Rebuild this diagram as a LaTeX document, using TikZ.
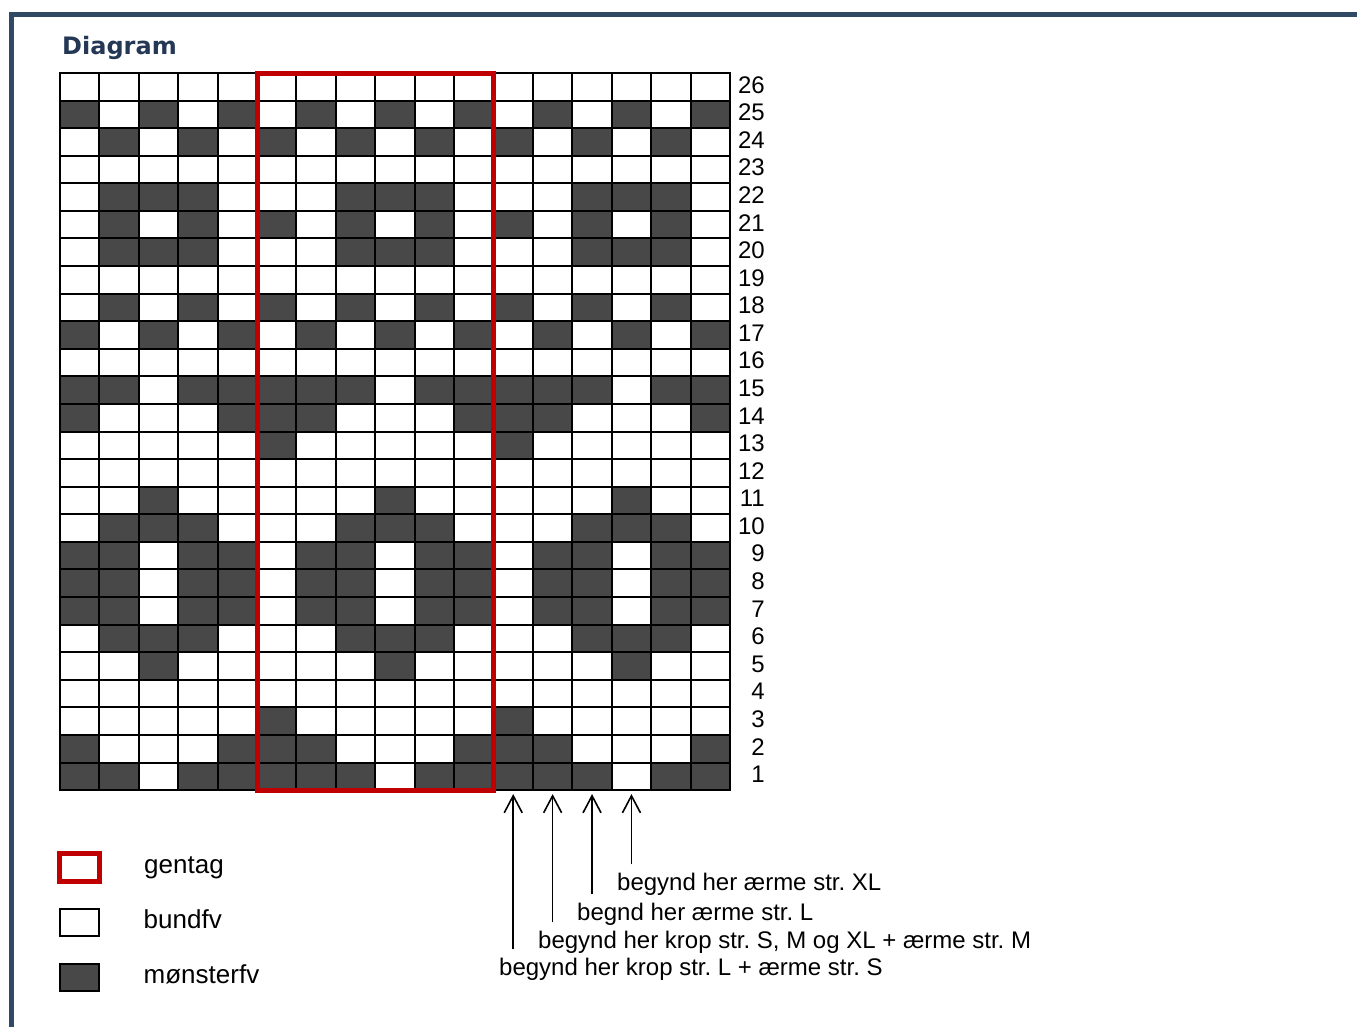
\documentclass[tikz,border=0pt]{standalone}
\usepackage{fontspec}
\setmainfont{Liberation Sans}
\newfontfamily\headfont{DejaVu Sans}
\usepackage{xcolor}
\usetikzlibrary{arrows.meta, positioning, calc, fit}
\definecolor{framecol}{RGB}{48,74,102}
\definecolor{titlecol}{RGB}{36,56,86}
\definecolor{darkcell}{RGB}{72,72,72}
\definecolor{repred}{RGB}{192,0,0}
\frenchspacing

\begin{document}
\begin{tikzpicture}[x=1pt, y=-1pt,
  cell/.style={draw=black, line width=2pt, minimum width=39.41pt, minimum height=27.58pt, inner sep=0pt, outer sep=0pt},
  cell0/.style={cell, fill=white},
  cell1/.style={cell, fill=darkcell},
  rownum/.style={anchor=east, inner sep=0pt, font=\fontsize{24}{28}\selectfont},
  note/.style={anchor=base west, inner sep=0pt, font=\fontsize{24}{28}\selectfont},
  legtext/.style={anchor=base west, inner sep=0pt, font=\fontsize{26}{30}\selectfont},
  startarrow/.style={-{Straight Barb[length=17pt,width=18pt]}, line width=1.6pt}
]
\useasboundingbox (0,0) rectangle (1357,1026);
% frame and title
\draw[framecol, line width=4.7pt] (11.2,1030) |- (1362,14.3);
\node[anchor=base west, inner sep=0pt, text=titlecol, font=\headfont\bfseries\fontsize{24}{28}\selectfont] (title) at (62,54) {Diagram};

% chart, row by row (1 = monsterfv)
\foreach \r/\pat in {
  26/{0,0,0,0,0,0,0,0,0,0,0,0,0,0,0,0,0},
  25/{1,0,1,0,1,0,1,0,1,0,1,0,1,0,1,0,1},
  24/{0,1,0,1,0,1,0,1,0,1,0,1,0,1,0,1,0},
  23/{0,0,0,0,0,0,0,0,0,0,0,0,0,0,0,0,0},
  22/{0,1,1,1,0,0,0,1,1,1,0,0,0,1,1,1,0},
  21/{0,1,0,1,0,1,0,1,0,1,0,1,0,1,0,1,0},
  20/{0,1,1,1,0,0,0,1,1,1,0,0,0,1,1,1,0},
  19/{0,0,0,0,0,0,0,0,0,0,0,0,0,0,0,0,0},
  18/{0,1,0,1,0,1,0,1,0,1,0,1,0,1,0,1,0},
  17/{1,0,1,0,1,0,1,0,1,0,1,0,1,0,1,0,1},
  16/{0,0,0,0,0,0,0,0,0,0,0,0,0,0,0,0,0},
  15/{1,1,0,1,1,1,1,1,0,1,1,1,1,1,0,1,1},
  14/{1,0,0,0,1,1,1,0,0,0,1,1,1,0,0,0,1},
  13/{0,0,0,0,0,1,0,0,0,0,0,1,0,0,0,0,0},
  12/{0,0,0,0,0,0,0,0,0,0,0,0,0,0,0,0,0},
  11/{0,0,1,0,0,0,0,0,1,0,0,0,0,0,1,0,0},
  10/{0,1,1,1,0,0,0,1,1,1,0,0,0,1,1,1,0},
  9/{1,1,0,1,1,0,1,1,0,1,1,0,1,1,0,1,1},
  8/{1,1,0,1,1,0,1,1,0,1,1,0,1,1,0,1,1},
  7/{1,1,0,1,1,0,1,1,0,1,1,0,1,1,0,1,1},
  6/{0,1,1,1,0,0,0,1,1,1,0,0,0,1,1,1,0},
  5/{0,0,1,0,0,0,0,0,1,0,0,0,0,0,1,0,0},
  4/{0,0,0,0,0,0,0,0,0,0,0,0,0,0,0,0,0},
  3/{0,0,0,0,0,1,0,0,0,0,0,1,0,0,0,0,0},
  2/{1,0,0,0,1,1,1,0,0,0,1,1,1,0,0,0,1},
  1/{1,1,0,1,1,1,1,1,0,1,1,1,1,1,0,1,1}}{
  \foreach \v [count=\c] in \pat {
    \node[cell\v] (c-\r-\c) at ({60+(\c-0.5)*39.41}, {73+(26.5-\r)*27.58}) {};
  }
  \node[rownum] (l-\r) at ([xshift=35pt, yshift=2pt]c-\r-17.east) {\r};
}

% repeat frame
\node[draw=repred, line width=5pt, inner sep=0pt, fit=(c-26-6)(c-1-11)] (repeat) {};

% start notes
\node[note] (t1) at (617,890) {begynd her ærme str. XL};
\node[note] (t2) at (577,920) {begnd her ærme str. L};
\node[note] (t3) at (538,948) {begynd her krop str. S, M og XL + ærme str. M};
\node[note] (t4) at (499,975) {begynd her krop str. L + ærme str. S};
\draw[startarrow, shorten <=8pt, shorten >=4pt] (t1.north -| c-1-15.south) -- (c-1-15.south);
\draw[startarrow, shorten <=8pt, shorten >=4pt] (t2.north -| c-1-14.south) -- (c-1-14.south);
\draw[startarrow, shorten <=8pt, shorten >=4pt] (t3.north -| c-1-13.south) -- (c-1-13.south);
\draw[startarrow, shorten <=8pt, shorten >=4pt] (t4.north -| c-1-12.south) -- (c-1-12.south);

% legend
\node[draw=repred, line width=5pt, minimum width=40pt, minimum height=28pt, inner sep=0pt] (leg-rep) at (79.5,867.5) {};
\node[cell0, line width=2.5pt, minimum width=39pt, minimum height=27pt] (leg-bund) at (79.5,922.5) {};
\node[cell1, line width=2.5pt, minimum width=39pt, minimum height=27pt] (leg-mon) at (79.5,977.5) {};
\node[legtext] (lt-rep) at ([xshift=42pt, yshift=-5.5pt]leg-rep.east) {gentag};
\node[legtext] (lt-bund) at ([xshift=44.5pt, yshift=-5.5pt]leg-bund.east) {bundfv};
\node[legtext] (lt-mon) at ([xshift=44.5pt, yshift=-5.5pt]leg-mon.east) {mønsterfv};
\end{tikzpicture}
\end{document}
